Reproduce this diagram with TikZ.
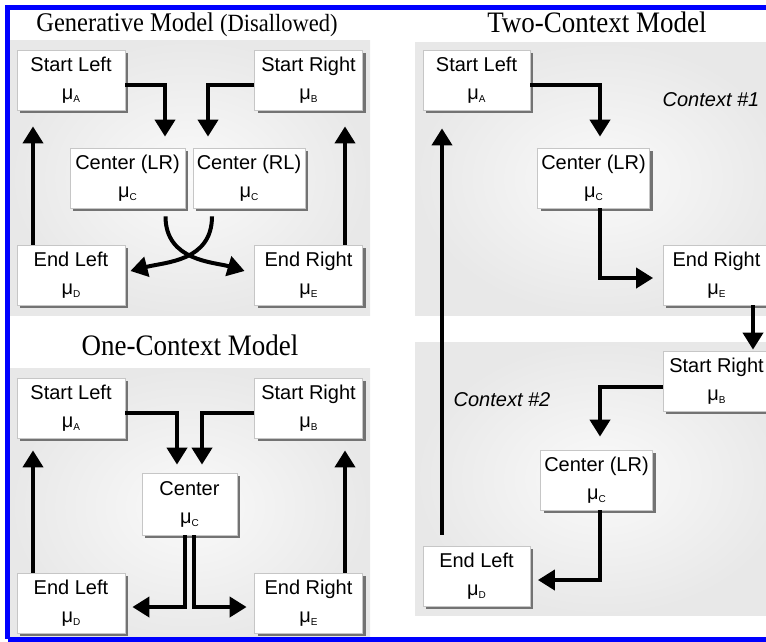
\documentclass[tikz,border=0pt]{standalone}
\usepackage{fontspec}
\setmainfont{Liberation Serif}
\newfontfamily\boxfont{Liberation Sans}
\usetikzlibrary{arrows.meta,calc,shadows}

\tikzset{
  stage/.style={draw=gray!45, line width=0.8pt, fill=white,
    minimum width=108pt, minimum height=60pt, inner sep=0pt, align=center,
    font=\boxfont\fontsize{20}{28}\selectfont,
    drop shadow={shadow xshift=3pt, shadow yshift=-3pt, fill=black!55, opacity=1}},
  flow/.style={line width=4pt, line join=miter, -{Triangle[length=17pt,width=20pt]}},
  panel/.style={inner color=gray!4, outer color=gray!18},
  heading/.style={anchor=base, font=\fontsize{27}{27}\selectfont},
  ctx/.style={font=\boxfont\itshape\fontsize{20}{24}\selectfont},
}
\newcommand{\mukey}[1]{μ\raisebox{-3pt}{\fontsize{10}{10}\selectfont #1}}
\newcommand{\tallhead}[1]{\scalebox{1}[1.1]{#1}}

\begin{document}
\begin{tikzpicture}[x=1pt, y=-1pt]
\useasboundingbox (0,0) rectangle (766,641);
\clip (0,0) rectangle (766,641);

% grey panels
\shade[panel] (10,40) rectangle (370,315);
\shade[panel] (10,368) rectangle (370,645);
\shade[panel] (415,42) rectangle (790,315);
\shade[panel] (415,342) rectangle (790,615);

% headings
\node[anchor=base] (hgen) at (187,31) {\tallhead{\fontsize{24.5}{25}\selectfont Generative Model \fontsize{22.5}{23}\selectfont(Disallowed)}};
\node[heading] (htwo) at (597,32) {\tallhead{Two-Context Model}};
\node[heading] (hone) at (190,355) {\tallhead{One-Context Model}};

% ---- generative model
\node[stage] (gsl) at (71,80) {Start Left\\\mukey{A}};
\node[stage] (gsr) at (308.5,80) {Start Right\\\mukey{B}};
\node[stage, minimum width=115pt] (gclr) at (127.5,178) {Center (LR)\\\mukey{C}};
\node[stage, minimum width=112pt] (gcrl) at (249,178) {Center (RL)\\\mukey{C}};
\node[stage] (gel) at (71,275) {End Left\\\mukey{D}};
\node[stage] (ger) at (308.5,275) {End Right\\\mukey{E}};

\draw[flow] ($(gsl.east)+(0,5)$) -| ($(gclr.north)+(37.5,-11)$);
\draw[flow] ($(gsr.west)+(0,5)$) -| ($(gcrl.north)+(-41,-11)$);
\draw[flow] ($(gel.north)+(-38,0)$) -- ($(gsl.south)+(-38,16)$);
\draw[flow] ($(ger.north)+(36.5,0)$) -- ($(gsr.south)+(36.5,16)$);
\draw[flow] ($(gclr.south)+(38,8)$) .. controls +(0,45) and +(-30,-9) .. ($(ger.west)+(-9.5,-4)$);
\draw[flow] ($(gcrl.south)+(-37,8)$) .. controls +(0,45) and +(35,-9) .. ($(gel.east)+(5,-4)$);

% ---- one-context model
\node[stage] (osl) at (71,408) {Start Left\\\mukey{A}};
\node[stage] (osr) at (308.5,408) {Start Right\\\mukey{B}};
\node[stage, minimum width=95pt, minimum height=62pt] (oc) at (189.5,504) {Center\\\mukey{C}};
\node[stage] (oel) at (71,603) {End Left\\\mukey{D}};
\node[stage] (oer) at (308.5,603) {End Right\\\mukey{E}};

\draw[flow] ($(osl.east)+(0,5)$) -| ($(oc.north)+(-12.5,-8)$);
\draw[flow] ($(osr.west)+(0,5)$) -| ($(oc.north)+(12.5,-8)$);
\draw[flow] ($(oel.north)+(-38,0)$) -- ($(osl.south)+(-38,12)$);
\draw[flow] ($(oer.north)+(36.5,0)$) -- ($(osr.south)+(36.5,12)$);
\draw[flow] ($(oc.south)+(-4.5,0)$) |- ($(oel.east)+(7,4)$);
\draw[flow] ($(oc.south)+(4,0)$) |- ($(oer.west)+(-7.5,4)$);

% ---- two-context model
\node[stage, minimum width=107pt] (tsl) at (476.5,80) {Start Left\\\mukey{A}};
\node[stage, minimum width=112pt] (tclr) at (593.5,178) {Center (LR)\\\mukey{C}};
\node[stage, minimum width=107pt] (ter) at (716.5,275) {End Right\\\mukey{E}};
\node[stage, minimum width=107pt] (tsr) at (716.5,381) {Start Right\\\mukey{B}};
\node[stage, minimum width=112pt] (tc2) at (596.5,480) {Center (LR)\\\mukey{C}};
\node[stage, minimum width=107pt] (tel) at (476.5,576) {End Left\\\mukey{D}};

\node[ctx] (c1) at (711,100) {Context \#1};
\node[ctx] (c2) at (502,400) {Context \#2};

\draw[flow] ($(tsl.east)+(0,5)$) -| ($(tclr.north)+(6.5,-11)$);
\draw[flow] ($(tclr.south)+(6.5,0)$) |- ($(ter.west)+(-9.5,3)$);
\draw[flow] ($(ter.south)+(36.5,0)$) -- ($(tsr.north)+(36.5,-1)$);
\draw[flow] ($(tsr.west)+(0,6)$) -| ($(tc2.north)+(3.5,-13)$);
\draw[flow] ($(tc2.south)+(3.5,0)$) |- ($(tel.east)+(7.5,4)$);
\draw[flow] ($(tel.north)+(-34.5,-11)$) -- ($(tsl.south)+(-34.5,18)$);

% blue frame
\draw[blue, line width=5pt] (7.5,639) -- (7.5,7.5) -- (790,7.5);
\draw[blue, line width=5pt] (7.5,639) -- (790,639);
\end{tikzpicture}
\end{document}
